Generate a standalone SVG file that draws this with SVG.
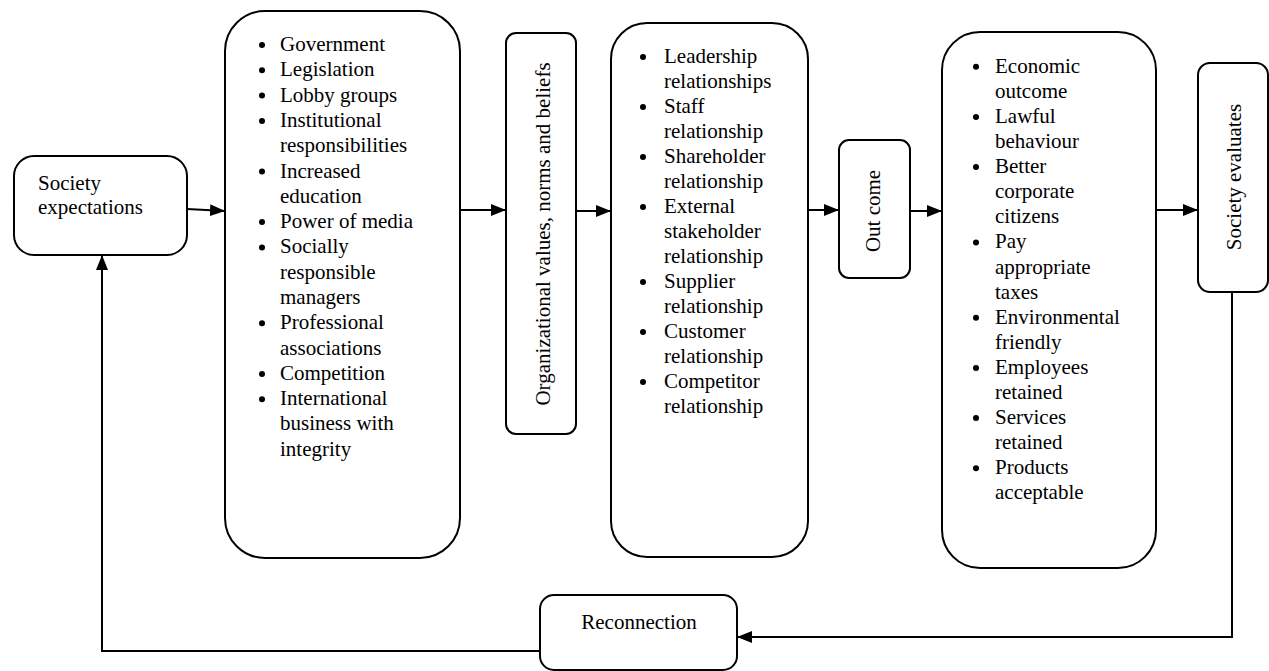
<svg xmlns="http://www.w3.org/2000/svg" width="1269" height="671" viewBox="0 0 1269 671">
  <style>
    .box { fill: #ffffff; stroke: #000000; stroke-width: 2; }
    .lbl { font-family: "Liberation Serif", "Times New Roman", serif; font-size: 21px; fill: #000000; }
    .dot { fill: #000000; }
    .wire { fill: none; stroke: #000000; stroke-width: 2; }
  </style>
  <defs>
    <marker id="head" viewBox="0 0 15 12" refX="15" refY="6" markerWidth="15" markerHeight="12" markerUnits="userSpaceOnUse" orient="auto">
      <path d="M0,0 L15,6 L0,12 z" fill="#000000"/>
    </marker>
  </defs>

  <!-- connectors -->
  <g id="connectors">
    <line class="wire" x1="187" y1="209" x2="225" y2="211" marker-end="url(#head)"/>
    <line class="wire" x1="460" y1="210" x2="506" y2="210" marker-end="url(#head)"/>
    <line class="wire" x1="576" y1="211" x2="611" y2="211" marker-end="url(#head)"/>
    <line class="wire" x1="808" y1="210" x2="839" y2="210" marker-end="url(#head)"/>
    <line class="wire" x1="910" y1="211" x2="942" y2="211" marker-end="url(#head)"/>
    <line class="wire" x1="1156" y1="210" x2="1198" y2="210" marker-end="url(#head)"/>
    <polyline class="wire" points="1232,292 1232,637 737,637" marker-end="url(#head)"/>
    <polyline class="wire" points="540,651 102,651 102,255" marker-end="url(#head)"/>
  </g>

  <!-- Society expectations -->
  <g id="society-expectations">
    <rect class="box" x="14" y="156" width="173" height="99" rx="20"/>
    <text class="lbl"><tspan x="38" y="190">Society</tspan><tspan x="38" y="214">expectations</tspan></text>
  </g>

  <!-- external pressures -->
  <g id="pressures">
    <rect class="box" x="225" y="11" width="235" height="547" rx="40"/>
    <g class="dot">
      <circle cx="262" cy="45" r="3"/>
      <circle cx="262" cy="70.3" r="3"/>
      <circle cx="262" cy="95.6" r="3"/>
      <circle cx="262" cy="120.9" r="3"/>
      <circle cx="262" cy="171.5" r="3"/>
      <circle cx="262" cy="222.1" r="3"/>
      <circle cx="262" cy="247.4" r="3"/>
      <circle cx="262" cy="323.3" r="3"/>
      <circle cx="262" cy="373.9" r="3"/>
      <circle cx="262" cy="399.2" r="3"/>
    </g>
    <text class="lbl">
      <tspan x="280" y="51">Government</tspan>
      <tspan x="280" dy="25.3">Legislation</tspan>
      <tspan x="280" dy="25.3">Lobby groups</tspan>
      <tspan x="280" dy="25.3">Institutional</tspan>
      <tspan x="280" dy="25.3">responsibilities</tspan>
      <tspan x="280" dy="25.3">Increased</tspan>
      <tspan x="280" dy="25.3">education</tspan>
      <tspan x="280" dy="25.3">Power of media</tspan>
      <tspan x="280" dy="25.3">Socially</tspan>
      <tspan x="280" dy="25.3">responsible</tspan>
      <tspan x="280" dy="25.3">managers</tspan>
      <tspan x="280" dy="25.3">Professional</tspan>
      <tspan x="280" dy="25.3">associations</tspan>
      <tspan x="280" dy="25.3">Competition</tspan>
      <tspan x="280" dy="25.3">International</tspan>
      <tspan x="280" dy="25.3">business with</tspan>
      <tspan x="280" dy="25.3">integrity</tspan>
    </text>
  </g>

  <!-- Organizational values -->
  <g id="org-values">
    <rect class="box" x="506" y="33" width="70" height="401" rx="10"/>
    <text class="lbl" text-anchor="middle" transform="translate(550,234) rotate(-90)">Organizational values, norms and beliefs</text>
  </g>

  <!-- relationships -->
  <g id="relationships">
    <rect class="box" x="611" y="23" width="197" height="534" rx="36"/>
    <g class="dot">
      <circle cx="643" cy="57" r="3"/>
      <circle cx="643" cy="107" r="3"/>
      <circle cx="643" cy="157" r="3"/>
      <circle cx="643" cy="207" r="3"/>
      <circle cx="643" cy="282" r="3"/>
      <circle cx="643" cy="332" r="3"/>
      <circle cx="643" cy="382" r="3"/>
    </g>
    <text class="lbl">
      <tspan x="664" y="63">Leadership</tspan>
      <tspan x="664" dy="25">relationships</tspan>
      <tspan x="664" dy="25">Staff</tspan>
      <tspan x="664" dy="25">relationship</tspan>
      <tspan x="664" dy="25">Shareholder</tspan>
      <tspan x="664" dy="25">relationship</tspan>
      <tspan x="664" dy="25">External</tspan>
      <tspan x="664" dy="25">stakeholder</tspan>
      <tspan x="664" dy="25">relationship</tspan>
      <tspan x="664" dy="25">Supplier</tspan>
      <tspan x="664" dy="25">relationship</tspan>
      <tspan x="664" dy="25">Customer</tspan>
      <tspan x="664" dy="25">relationship</tspan>
      <tspan x="664" dy="25">Competitor</tspan>
      <tspan x="664" dy="25">relationship</tspan>
    </text>
  </g>

  <!-- Out come -->
  <g id="outcome">
    <rect class="box" x="839" y="140" width="71" height="138" rx="10"/>
    <text class="lbl" text-anchor="middle" transform="translate(880,211) rotate(-90)">Out come</text>
  </g>

  <!-- results -->
  <g id="results">
    <rect class="box" x="942" y="32" width="214" height="536" rx="38"/>
    <g class="dot">
      <circle cx="976" cy="66.7" r="3"/>
      <circle cx="976" cy="116.9" r="3"/>
      <circle cx="976" cy="167.1" r="3"/>
      <circle cx="976" cy="242.4" r="3"/>
      <circle cx="976" cy="317.7" r="3"/>
      <circle cx="976" cy="367.9" r="3"/>
      <circle cx="976" cy="418.1" r="3"/>
      <circle cx="976" cy="468.3" r="3"/>
    </g>
    <text class="lbl">
      <tspan x="995" y="72.7">Economic</tspan>
      <tspan x="995" dy="25.1">outcome</tspan>
      <tspan x="995" dy="25.1">Lawful</tspan>
      <tspan x="995" dy="25.1">behaviour</tspan>
      <tspan x="995" dy="25.1">Better</tspan>
      <tspan x="995" dy="25.1">corporate</tspan>
      <tspan x="995" dy="25.1">citizens</tspan>
      <tspan x="995" dy="25.1">Pay</tspan>
      <tspan x="995" dy="25.1">appropriate</tspan>
      <tspan x="995" dy="25.1">taxes</tspan>
      <tspan x="995" dy="25.1">Environmental</tspan>
      <tspan x="995" dy="25.1">friendly</tspan>
      <tspan x="995" dy="25.1">Employees</tspan>
      <tspan x="995" dy="25.1">retained</tspan>
      <tspan x="995" dy="25.1">Services</tspan>
      <tspan x="995" dy="25.1">retained</tspan>
      <tspan x="995" dy="25.1">Products</tspan>
      <tspan x="995" dy="25.1">acceptable</tspan>
    </text>
  </g>

  <!-- Society evaluates -->
  <g id="society-evaluates">
    <rect class="box" x="1198" y="63" width="70" height="229" rx="12"/>
    <text class="lbl" text-anchor="middle" transform="translate(1241,177) rotate(-90)">Society evaluates</text>
  </g>

  <!-- Reconnection -->
  <g id="reconnection">
    <rect class="box" x="540" y="595" width="197" height="75" rx="14"/>
    <text class="lbl" x="639" y="629" text-anchor="middle">Reconnection</text>
  </g>
</svg>
